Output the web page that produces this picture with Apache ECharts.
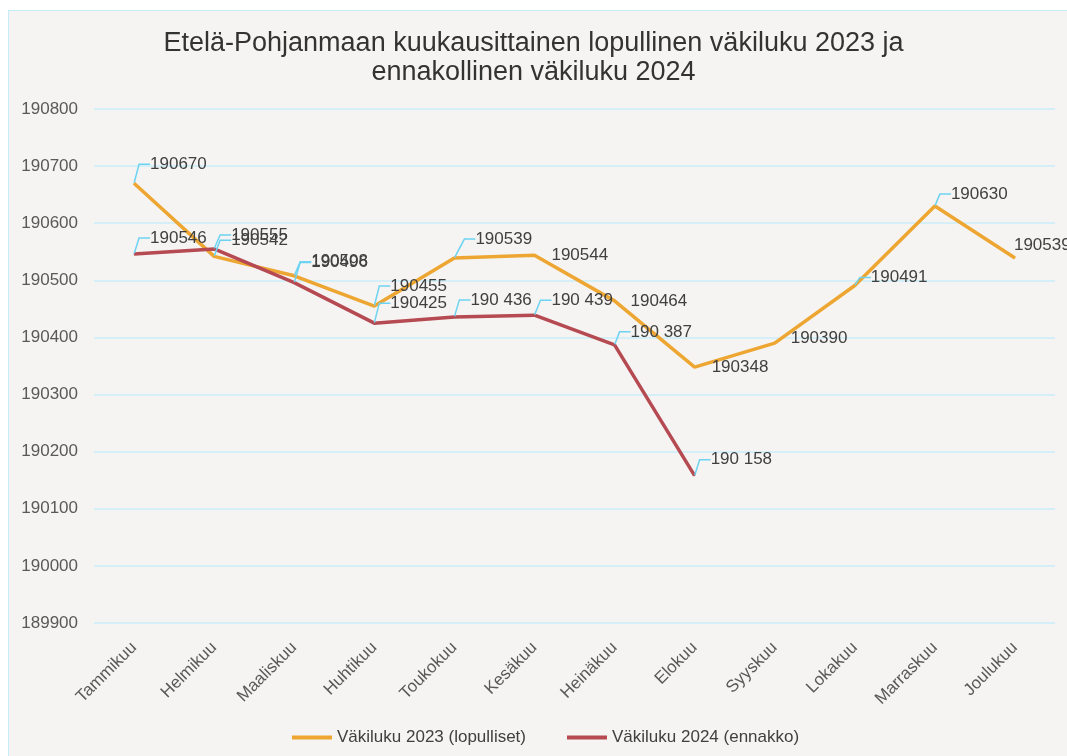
<!DOCTYPE html>
<html>
<head>
<meta charset="utf-8">
<script src="https://cdn.jsdelivr.net/npm/echarts@6/dist/echarts.min.js"></script>
<style>
  html, body { margin: 0; padding: 0; background: #fff; }
  #frame {
    position: absolute; left: 8px; top: 10px; width: 1100px; height: 800px;
    background: #f5f4f2; border: 1px solid #c6ecf7;
  }
  #main { position: absolute; left: 0; top: 0; width: 1067px; height: 756px; }
</style>
</head>
<body>
<div id="frame"></div>
<div id="main"></div>
<script>
  const months = ["Tammikuu", "Helmikuu", "Maaliskuu", "Huhtikuu", "Toukokuu", "Kesäkuu",
    "Heinäkuu", "Elokuu", "Syyskuu", "Lokakuu", "Marraskuu", "Joulukuu"];

  const pop2023 = [190670, 190542, 190508, 190455, 190539, 190544, 190464, 190348, 190390, 190491, 190630, 190539];
  const pop2024 = [190546, 190555, 190496, 190425, 190436, 190439, 190387, 190158];
  // the 2024 labels are written this way in the source, some with a space
  const labels2024 = ["190546", "190555", "190496", "190425", "190 436", "190 439", "190 387", "190 158"];

  const seriesNames = ["Väkiluku 2023 (lopulliset)", "Väkiluku 2024 (ennakko)"];

  // label placement: [dx, dy, leader line on/off]
  const place2023 = [
    [16, -19, 1], [17, -16, 1], [17, -14, 1], [16, -20, 1], [21, -19, 1], [17, 0, 0],
    [16, 0, 0], [17, 0, 0], [16, -5, 0], [16, -8, 1], [16, -12, 1], [-1, -13, 0]
  ];
  const place2024 = [
    [16, -16, 1], [17, -14, 1], [17, -20, 1], [16, -20, 1], [16, -17, 1], [17, -15, 1],
    [16, -13, 1], [16, -16, 1]
  ];

  const chart = echarts.init(document.getElementById("main"));

  function layoutFor(place) {
    return function (params) {
      const p = place[params.dataIndex];
      const px = params.rect.x + params.rect.width / 2;
      const py = params.rect.y + params.rect.height / 2;
      return {
        x: px + p[0],
        y: py + p[1],
        align: "left",
        verticalAlign: "middle"
      };
    };
  }

  function lineSeries(name, values, color, texts, place) {
    return {
      name: name,
      type: "line",
      data: values.map((v, i) => ({
        value: v,
        labelLine: { show: !!place[i][2] }
      })),
      symbol: "circle",
      symbolSize: 1,
      showSymbol: true,
      lineStyle: { color: color, width: 3.5 },
      itemStyle: { color: color },
      label: {
        show: true,
        color: "#404040",
        fontSize: 17,
        formatter: (p) => texts[p.dataIndex]
      },
      labelLine: {
        show: true,
        length2: 11,
        smooth: false,
        lineStyle: { color: "#6dd3f2", width: 1.5 }
      },
      labelLayout: layoutFor(place),
      emphasis: { disabled: true },
      animation: false
    };
  }

  chart.setOption({
    backgroundColor: "transparent",
    textStyle: { fontFamily: "Liberation Sans, Arial, sans-serif" },
    title: {
      text: "Etelä-Pohjanmaan kuukausittainen lopullinen väkiluku 2023 ja\nennakollinen väkiluku 2024",
      left: "center",
      top: 24,
      textStyle: {
        fontSize: 27,
        fontWeight: "normal",
        color: "#333333",
        lineHeight: 29
      }
    },
    grid: { left: 94, right: 12, top: 109, bottom: 133 },
    legend: {
      bottom: 5,
      left: 287,
      icon: "rect",
      itemWidth: 40,
      itemHeight: 4,
      itemGap: 41,
      textStyle: { fontSize: 17, color: "#404040" },
      data: seriesNames
    },
    xAxis: {
      type: "category",
      data: months,
      boundaryGap: true,
      axisLine: { show: false },
      axisTick: { show: false },
      axisLabel: { rotate: 45, margin: 22, fontSize: 17, color: "#595959" }
    },
    yAxis: {
      type: "value",
      min: 189900,
      max: 190800,
      interval: 100,
      axisLine: { show: false },
      axisTick: { show: false },
      axisLabel: { margin: 16, fontSize: 17, color: "#595959", formatter: (v) => String(v) },
      splitLine: { lineStyle: { color: "#c9eef9", width: 1.5 } }
    },
    series: [
      lineSeries(seriesNames[0], pop2023, "#eea633", pop2023.map(String), place2023),
      lineSeries(seriesNames[1], pop2024, "#b64a52", labels2024, place2024)
    ]
  });
</script>
</body>
</html>
